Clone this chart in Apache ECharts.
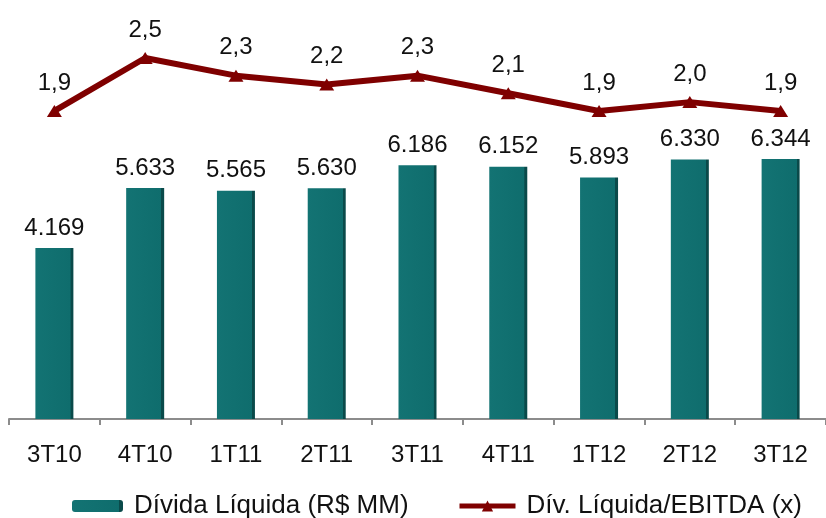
<!DOCTYPE html>
<html>
<head>
<meta charset="utf-8">
<script src="https://cdn.jsdelivr.net/npm/echarts@6/dist/echarts.min.js"></script>
<style>
html,body{margin:0;padding:0;background:#fff;}
#c{width:826px;height:518px;}
</style>
</head>
<body>
<div id="c"></div>
<script>
var categories = ['3T10','4T10','1T11','2T11','3T11','4T11','1T12','2T12','3T12'];
var dividaLiquida = [4169, 5633, 5565, 5630, 6186, 6152, 5893, 6330, 6344];
var divEbitda = [1.9, 2.5, 2.3, 2.2, 2.3, 2.1, 1.9, 2.0, 1.9];
var barName = 'Dívida Líquida (R$ MM)';
var lineName = 'Dív. Líquida/EBITDA (x)';

var FONT = '"Liberation Sans", Arial, sans-serif';
var chart = echarts.init(document.getElementById('c'), null, {renderer:'canvas'});

function fmtThousands(v){
  return String(v).replace(/\B(?=(\d{3})+(?!\d))/g, '.');
}

chart.setOption({
  animation: false,
  backgroundColor: '#ffffff',
  textStyle: {fontFamily: FONT},
  grid: {left: 9, width: 818, top: 9, bottom: 99, containLabel: false},
  legend: [{
    data: [barName],
    left: 72, top: 493, padding: 0,
    itemWidth: 51, itemHeight: 12,
    textStyle: {fontFamily: FONT, fontSize: 26, color: '#111', padding: [0,0,0,6]}
  },{
    data: [lineName],
    left: 457, top: 493, padding: 0,
    itemWidth: 56, itemHeight: 14,
    lineStyle: {width: 5, color: '#7f0000'},
    textStyle: {fontFamily: FONT, fontSize: 26, color: '#111', padding: [0,0,0,6]}
  }],
  xAxis: {
    type: 'category',
    data: categories,
    axisLine: {lineStyle: {color: '#8c8c8c', width: 2}},
    axisTick: {show: true, length: 6, lineStyle: {color: '#8c8c8c', width: 2}},
    axisLabel: {fontFamily: FONT, fontSize: 24, color: '#111', margin: 24}
  },
  yAxis: [{
    type: 'value', min: 0, max: 10000, show: false, splitLine: {show: false}
  },{
    type: 'value', min: -1.59, max: 3.055, show: false, splitLine: {show: false}
  }],
  series: [{
    name: barName,
    type: 'bar',
    yAxisIndex: 0,
    data: dividaLiquida,
    barWidth: 38,
    itemStyle: {
      color: new echarts.graphic.LinearGradient(0,0,1,0,[
        {offset: 0, color: '#137373'},
        {offset: 0.92, color: '#0f6d6d'},
        {offset: 0.93, color: '#0a4a4a'},
        {offset: 1, color: '#0a4a4a'}
      ])
    },
    label: {
      show: true, position: 'top', distance: 8,
      fontFamily: FONT, fontSize: 24, color: '#111',
      formatter: function(p){ return fmtThousands(p.value); }
    },
    z: 2
  },{
    name: lineName,
    type: 'line',
    yAxisIndex: 1,
    data: divEbitda,
    symbol: 'triangle',
    symbolSize: [15, 12],
    lineStyle: {color: '#7f0000', width: 6},
    itemStyle: {color: '#7f0000'},
    label: {
      show: true, position: 'top', distance: 10,
      fontFamily: FONT, fontSize: 24, color: '#111',
      formatter: function(p){ return p.value.toFixed(1).replace('.', ','); }
    },
    z: 3
  }]
});
</script>
</body>
</html>
